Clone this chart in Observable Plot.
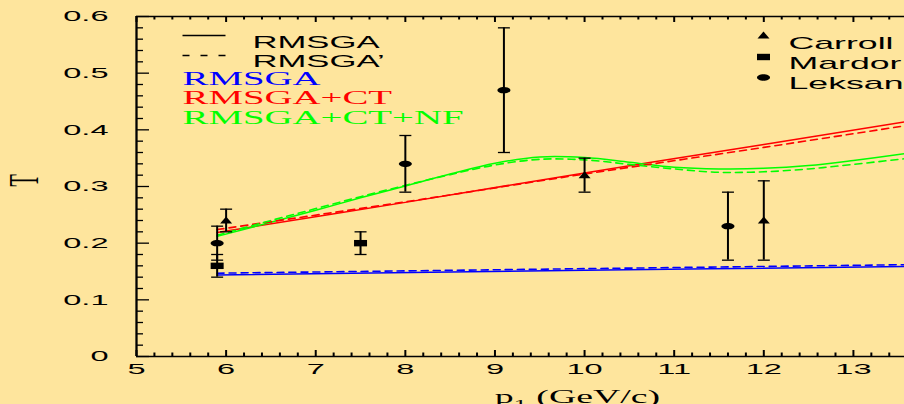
<!DOCTYPE html>
<html><head><meta charset="utf-8">
<script src="https://cdn.jsdelivr.net/npm/d3@7"></script>
<script src="https://cdn.jsdelivr.net/npm/@observablehq/plot@0.6"></script>
<style>
html,body{margin:0;padding:0;background:#fee59d;overflow:hidden;}
</style></head><body><div id="chart"></div>
<script>
// ---------- data ----------
const xTicks = [5, 6, 7, 8, 9, 10, 11, 12, 13];
const xTickLabels = ["5", "6", "7", "8", "9", "10", "11", "12", "13"];
const yTicks = [0, 0.1, 0.2, 0.3, 0.4, 0.5, 0.6];
const yTickLabels = ["0", "0.1", "0.2", "0.3", "0.4", "0.5", "0.6"];
const xLabel = "p1 (GeV/c)";
const yLabel = "T";

// model curves: [p, T]
const blueSolid  = [[5.9, 0.144], [10.0, 0.152], [13.57, 0.159]];
const blueDashed = [[5.9, 0.147], [10.0, 0.155], [13.57, 0.162]];
const redSolid   = [[5.9, 0.219], [8.0, 0.272], [10.0, 0.324], [12.0, 0.374], [13.57, 0.414]];
const redDashed  = [[5.9, 0.224], [8.0, 0.273], [10.0, 0.322], [12.0, 0.369], [13.57, 0.407]];
const greenSolid = [[5.9, 0.212], [6.5, 0.237], [7.0, 0.258], [7.5, 0.280], [8.0, 0.301], [8.5, 0.322],
                    [9.0, 0.341], [9.5, 0.352], [10.0, 0.351], [10.5, 0.343], [11.0, 0.334], [11.5, 0.331],
                    [12.0, 0.332], [12.5, 0.337], [13.0, 0.346], [13.57, 0.358]];
const greenDashed = [[5.9, 0.214], [6.5, 0.240], [7.0, 0.261], [7.5, 0.282], [8.0, 0.302], [8.5, 0.321],
                     [9.0, 0.338], [9.5, 0.348], [10.0, 0.347], [10.5, 0.339], [11.0, 0.331], [11.5, 0.325],
                     [12.0, 0.326], [12.5, 0.331], [13.0, 0.339], [13.57, 0.349]];

// experimental data
const carrollP  = [6.0, 10.0, 12.0];
const carrollT  = [0.24, 0.32, 0.24];
const carrollLo = [0.22, 0.29, 0.17];
const carrollHi = [0.26, 0.35, 0.31];

const mardorP  = [5.9, 7.5];
const mardorT  = [0.16, 0.20];
const mardorLo = [0.14, 0.18];
const mardorHi = [0.18, 0.22];

const leksansP  = [5.9, 8.0, 9.1, 11.6];
const leksansT  = [0.20, 0.34, 0.47, 0.23];
const leksansLo = [0.17, 0.29, 0.36, 0.17];
const leksansHi = [0.23, 0.39, 0.58, 0.29];

const legendLineLabels  = ["RMSGA", "RMSGA\u2019"];
const legendModelLabels = ["RMSGA", "RMSGA+CT", "RMSGA+CT+NF"];
const legendDataLabels  = ["Carroll", "Mardor", "Leksans"];

// ---------- layout & style ----------
const W = 904, H = 404, ML = 136, MR = 0, MT = 16, MB = 48;
const frameW = W - ML - MR, frameH = H - MT - MB;
const K = 2.1; // horizontal text stretch
const BG = "#fee59d";
const BLUE = "#0000ff", RED = "#ff0000", GREEN = "#00ff00";
const SANS = "Liberation Sans, Arial, sans-serif";
const SERIF = "Liberation Serif, Times New Roman, serif";
const DASH = "7,5";

const toPts = arr => arr.map(([x, y]) => ({x, y}));
const toObs = (P, T, Lo, Hi) => P.map((p, i) => ({p, T: T[i], lo: Lo[i], hi: Hi[i]}));
const carroll = toObs(carrollP, carrollT, carrollLo, carrollHi);
const mardor = toObs(mardorP, mardorT, mardorLo, mardorHi);
const leksans = toObs(leksansP, leksansT, leksansLo, leksansHi);

const ellipseSym = {draw(c) {
  const rx = 6.5, ry = 3.2, k = 0.5523;
  c.moveTo(rx, 0);
  c.bezierCurveTo(rx, ry * k, rx * k, ry, 0, ry);
  c.bezierCurveTo(-rx * k, ry, -rx, ry * k, -rx, 0);
  c.bezierCurveTo(-rx, -ry * k, -rx * k, -ry, 0, -ry);
  c.bezierCurveTo(rx * k, -ry, rx, -ry * k, rx, 0);
  c.closePath();
}};
const squareSym = {draw(c) { c.rect(-6.5, -3.2, 13, 6.4); }};
const triSym = {draw(c) { c.moveTo(0, -4); c.lineTo(6, 3); c.lineTo(-6, 3); c.closePath(); }};
const capSym = {draw(c) { c.moveTo(-6, 0); c.lineTo(6, 0); }};
const sampleSym = {draw(c) { c.moveTo(0, 0); c.lineTo(43, 0); }};

const xMinor = d3.range(5, 13.6, 0.2).filter(v => Math.abs(v - Math.round(v)) > 1e-6);
const yMinor = d3.range(0, 0.6001, 0.02).filter(v => Math.abs(v * 10 - Math.round(v * 10)) > 1e-6);

const marks = [];
// frame lines
marks.push(Plot.ruleX([xTicks[0]], {stroke: "black", strokeWidth: 2.3}));
marks.push(Plot.ruleY([yTicks[0]], {stroke: "black", strokeWidth: 1.5}));
marks.push(Plot.ruleY([yTicks[yTicks.length - 1]], {stroke: "black", strokeWidth: 1.5}));
// x ticks (bottom, inward up; top, inward down)
marks.push(Plot.ruleX(xTicks, {x: d => d, insetTop: frameH - 6, stroke: "black", strokeWidth: 2}));
marks.push(Plot.ruleX(xMinor, {x: d => d, insetTop: frameH - 3.5, stroke: "black", strokeWidth: 2}));
marks.push(Plot.ruleX(xTicks, {x: d => d, insetBottom: frameH - 6, stroke: "black", strokeWidth: 2}));
marks.push(Plot.ruleX(xMinor, {x: d => d, insetBottom: frameH - 3.5, stroke: "black", strokeWidth: 2}));
// y ticks
marks.push(Plot.ruleY(yTicks, {y: d => d, insetRight: frameW - 13, stroke: "black", strokeWidth: 1.3}));
marks.push(Plot.ruleY(yMinor, {y: d => d, insetRight: frameW - 7, stroke: "black", strokeWidth: 1.3}));
// tick labels
marks.push(Plot.text(yTicks, {y: d => d, text: (d, i) => yTickLabels[i], frameAnchor: "left", dx: -28,
  textAnchor: "end", fontSize: 15.5, fontFamily: SANS, fill: "black"}));
marks.push(Plot.text(xTicks, {x: d => d, text: (d, i) => xTickLabels[i], frameAnchor: "bottom", dy: 17,
  fontSize: 15.5, fontFamily: SANS, fill: "black"}));
// axis labels
marks.push(Plot.text([xLabel], {text: d => d, frameAnchor: "bottom", dx: 57, dy: 46, lineAnchor: "bottom",
  fontSize: 18, fontFamily: SERIF, fill: "black"}));
marks.push(Plot.text([yLabel], {text: d => d, frameAnchor: "left", dx: -112, rotate: -90,
  fontSize: 20, fontFamily: SERIF, fill: "black"}));

// model curves
const lineOpts = (stroke, dashed) => ({x: "x", y: "y", stroke, strokeWidth: dashed ? 1.6 : 1.5,
  strokeDasharray: dashed ? DASH : null, curve: "catmull-rom"});
marks.push(Plot.line(toPts(blueSolid), lineOpts(BLUE, false)));
marks.push(Plot.line(toPts(redSolid), lineOpts(RED, false)));
marks.push(Plot.line(toPts(greenSolid), lineOpts(GREEN, false)));
marks.push(Plot.line(toPts(blueDashed), lineOpts(BLUE, true)));
marks.push(Plot.line(toPts(redDashed), lineOpts(RED, true)));
marks.push(Plot.line(toPts(greenDashed), lineOpts(GREEN, true)));

// data with error bars
for (const [data, sym] of [[mardor, squareSym], [leksans, ellipseSym], [carroll, triSym]]) {
  marks.push(Plot.ruleX(data, {x: "p", y1: "lo", y2: "hi", stroke: "black", strokeWidth: 2}));
  marks.push(Plot.dot(data, {x: "p", y: "lo", symbol: capSym, stroke: "black", strokeWidth: 1.3, fill: "none"}));
  marks.push(Plot.dot(data, {x: "p", y: "hi", symbol: capSym, stroke: "black", strokeWidth: 1.3, fill: "none"}));
  marks.push(Plot.dot(data, {x: "p", y: "T", symbol: sym, fill: "black", stroke: "none"}));
}

// legend (top-left): line styles
marks.push(Plot.dot([0], {frameAnchor: "top-left", dx: 46, dy: 19, symbol: sampleSym, stroke: "black", strokeWidth: 1.3, fill: "none"}));
marks.push(Plot.dot([0], {frameAnchor: "top-left", dx: 46, dy: 39, symbol: sampleSym, stroke: "black", strokeWidth: 1.3, fill: "none", strokeDasharray: "7,11"}));
[20, 39].forEach((dy, i) => marks.push(Plot.text([legendLineLabels[i]], {text: d => d, frameAnchor: "top-left",
  dx: 116, dy, textAnchor: "start", fontSize: 16.5, fontFamily: SANS, fill: "black"})));
// legend: model colours
[[55, BLUE], [74.5, RED], [94.5, GREEN]].forEach(([dy, fill], i) => marks.push(Plot.text([legendModelLabels[i]], {
  text: d => d, frameAnchor: "top-left", dx: 46, dy, textAnchor: "start", fontSize: 18.5, fontFamily: SERIF, fill})));
// legend (top-right): data symbols
[[triSym, 19], [squareSym, 40.5], [ellipseSym, 61]].forEach(([symbol, dy]) => marks.push(Plot.dot([0], {
  frameAnchor: "top-left", dx: 627, dy, symbol, fill: "black", stroke: "none"})));
[20, 40.7, 60.7].forEach((dy, i) => marks.push(Plot.text([legendDataLabels[i]], {text: d => d, frameAnchor: "top-left",
  dx: 652, dy, textAnchor: "start", fontSize: 17, fontFamily: SANS, fill: "black"})));

const chart = Plot.plot({
  width: W, height: H,
  marginLeft: ML, marginRight: MR, marginTop: MT, marginBottom: MB,
  x: {domain: [5, 13.57], axis: null},
  y: {domain: [0, 0.6], axis: null},
  style: {background: BG, fontFamily: SANS, overflow: "hidden"},
  marks
});

// stretch all text horizontally about its anchor (the reference is horizontally stretched)
chart.querySelectorAll("text").forEach(t => {
  const tr = t.getAttribute("transform");
  if (tr && /^translate\([^)]*\)/.test(tr)) {
    t.setAttribute("transform", tr.replace(/^translate\([^)]*\)/, m => m + ` scale(${K},1)`));
  }
  if (t.textContent === xLabel) {
    t.textContent = "";
    const ns = "http://www.w3.org/2000/svg";
    t.appendChild(document.createTextNode("p"));
    const s1 = document.createElementNS(ns, "tspan");
    s1.setAttribute("dy", "5"); s1.setAttribute("font-size", "12.5"); s1.textContent = "1";
    const s2 = document.createElementNS(ns, "tspan");
    s2.setAttribute("dy", "-5"); s2.textContent = " (GeV/c)";
    t.appendChild(s1); t.appendChild(s2);
  }
});
document.getElementById("chart").appendChild(chart);
</script></body></html>
